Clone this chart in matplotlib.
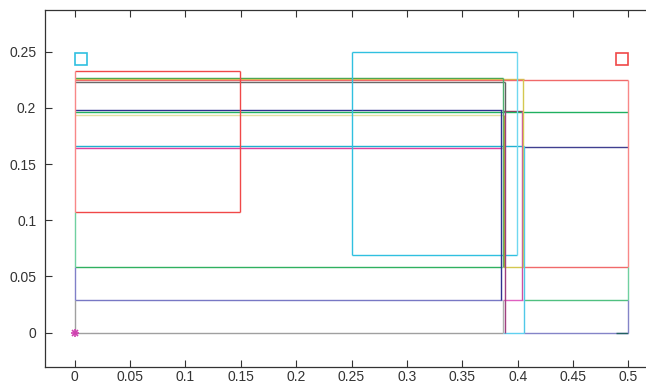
import numpy as np
import matplotlib.pyplot as plt

# ── Data ──────────────────────────────────────────
# horizontal segments: y, x start, x end, colour
h_y  = [0.2328, 0.2500, 0.2269, 0.2257, 0.2245, 0.2233,
        0.1979, 0.1975, 0.1963, 0.1934, 0.1664, 0.1655, 0.1643,
        0.1077, 0.0691, 0.0584, 0.0584, 0.0584,
        0.0290, 0.0290, 0.0290, 0.0, 0.0, 0.0, 0.0]
h_x0 = [0.0, 0.2506, 0.0, 0.0, 0.0, 0.0,
        0.0, 0.3870, 0.0, 0.0, 0.0, 0.4058, 0.0,
        0.0, 0.2506, 0.0, 0.3870, 0.4058,
        0.0, 0.3870, 0.4058, 0.0, 0.3870, 0.4058, 0.489]
h_x1 = [0.1495, 0.3992, 0.3870, 0.4058, 0.5, 0.3888,
        0.3855, 0.4045, 0.5, 0.3870, 0.4058, 0.5, 0.3855,
        0.1495, 0.3992, 0.3860, 0.4058, 0.5,
        0.3855, 0.4045, 0.5, 0.3870, 0.4058, 0.5, 0.5]
h_col = ['#f04848', '#30c0e0', '#30a050', '#d4c850', '#f06a6a', '#6a6a6a',
         '#303090', '#a03060', '#20b060', '#e2e0a0', '#20b0d0', '#404090', '#e040a0',
         '#f04848', '#30c0e0', '#30b060', '#d4c850', '#f06a6a',
         '#7878c4', '#e060c0', '#50c080', '#a0a0a0', '#60d0f0', '#8484c8', '#206060']

# vertical segments: x, y start, y end, colour
v_x  = [0.0, 0.0, 0.0, 0.0, 0.1495, 0.2506, 0.3992,
        0.3853, 0.3866, 0.3872, 0.3879, 0.3888, 0.3890,
        0.4043, 0.4052, 0.4058, 0.5, 0.5, 0.5]
v_y0 = [0.0, 0.029, 0.0584, 0.1077, 0.1077, 0.0691, 0.0691,
        0.029, 0.0, 0.0584, 0.0584, 0.0, 0.1975,
        0.029, 0.0584, 0.0, 0.0584, 0.029, 0.0]
v_y1 = [0.029, 0.0584, 0.1077, 0.2328, 0.2328, 0.25, 0.25,
        0.1979, 0.029, 0.2269, 0.1934, 0.1975, 0.2233,
        0.1975, 0.2257, 0.1664, 0.2245, 0.0584, 0.029]
v_col = ['#a0a0a0', '#8080c8', '#70d0a0', '#f88888', '#f04848', '#30c0e0', '#70d8f0',
         '#303090', '#b0b0b0', '#50b070', '#b0a830', '#a04080', '#606060',
         '#d050a0', '#d4c850', '#50c8e8', '#f88888', '#70d0a0', '#8484c8']

# markers
sq_x   = [0.0057, 0.4945]
sq_y   = [0.2438, 0.2438]
sq_col = ['#30c0e0', '#f04848']
star_x, star_y = [0.0], [0.0]

x_ticks = np.arange(0, 0.5001, 0.05)
y_ticks = np.arange(0, 0.2501, 0.05)
x_labels = ['0', '0.05', '0.1', '0.15', '0.2', '0.25',
            '0.3', '0.35', '0.4', '0.45', '0.5']
y_labels = ['0', '0.05', '0.1', '0.15', '0.2', '0.25']

# ── Figure ─────────────────────────────
plt.rcParams['font.family'] = ['Liberation Sans', 'DejaVu Sans']
fig = plt.figure(figsize=(6.46, 3.87), dpi=100)
fig.patch.set_facecolor('white')
ax = fig.add_axes([0.0692, 0.0525, 0.955, 0.9217])

for y, x0, x1, c in zip(h_y, h_x0, h_x1, h_col):
    ax.plot([x0, x1], [y, y], color=c, lw=1.0,
            solid_capstyle='butt')
for x, y0, y1, c in zip(v_x, v_y0, v_y1, v_col):
    ax.plot([x, x], [y0, y1], color=c, lw=1.0,
            solid_capstyle='butt')

for x, y, c in zip(sq_x, sq_y, sq_col):
    ax.plot(x, y, marker='s', markersize=9,
            markerfacecolor='none', markeredgecolor=c,
            markeredgewidth=1.2, linestyle='none')
ax.plot(star_x, star_y, marker='+', color='#d040b0',
        markersize=6, mew=1.2, linestyle='none')
ax.plot(star_x, star_y, marker='x', color='#d040b0',
        markersize=5, mew=1.2, linestyle='none')

ax.set_xlim(-0.027, 0.53)
ax.set_ylim(-0.0302, 0.287)
ax.set_xticks(x_ticks)
ax.set_xticklabels(x_labels)
ax.set_yticks(y_ticks)
ax.set_yticklabels(y_labels)
ax.tick_params(direction='in', length=5, width=0.8,
               top=True, right=True, colors='#333333',
               labelsize=10)
ax.tick_params(axis='x', pad=2.5)
ax.tick_params(axis='y', pad=6)
for s in ax.spines.values():
    s.set_color('#333333')
    s.set_linewidth(0.9)

plt.savefig('out.png', dpi=100, facecolor='white')
plt.close()
